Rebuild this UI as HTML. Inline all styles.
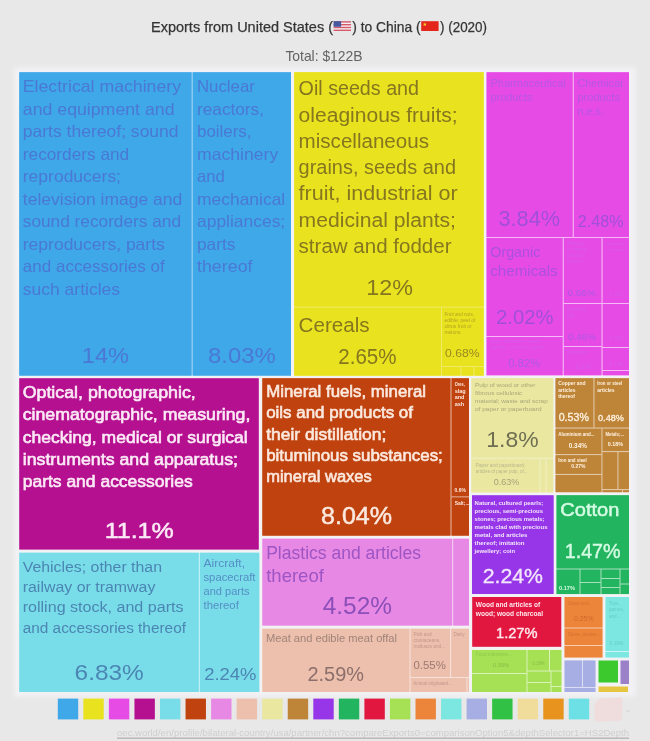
<!DOCTYPE html>
<html lang="en">
<head>
<meta charset="utf-8">
<title>Exports from United States to China (2020)</title>
<style>
html,body{margin:0;padding:0;background:#e8e8e8;}
body{width:650px;height:741px;overflow:hidden;position:relative;font-family:"Liberation Sans",sans-serif;}
svg{position:absolute;left:0;top:0;display:block;font-family:"Liberation Sans",sans-serif;filter:blur(0.5px);}
text{white-space:pre;}
</style>
</head>
<body>
<svg id="chart" role="img" aria-label="Treemap of exports from United States to China, 2020" width="650" height="741" viewBox="0 0 650 741">
<defs><filter id="soft" x="-5%" y="-5%" width="110%" height="110%"><feGaussianBlur stdDeviation="2.5"/></filter></defs>
<g id="header">
<text x="151" y="31.6" font-size="14.1" fill="#353535" textLength="182" lengthAdjust="spacingAndGlyphs" stroke="#353535" stroke-width="0.25">Exports from United States (</text>
<text x="352.2" y="31.6" font-size="14.1" fill="#353535" textLength="68.4" lengthAdjust="spacingAndGlyphs" stroke="#353535" stroke-width="0.25">) to China (</text>
<text x="440" y="31.6" font-size="14.1" fill="#353535" textLength="47" lengthAdjust="spacingAndGlyphs" stroke="#353535" stroke-width="0.25">) (2020)</text>
<text x="285.4" y="60.7" font-size="14.1" fill="#636363" textLength="77.1" lengthAdjust="spacingAndGlyphs">Total: $122B</text>
<rect x="333.6" y="21.2" width="17.4" height="9.8" fill="#f3f3f3"/>
<rect x="333.6" y="21.2" width="17.4" height="1.4" fill="#d8586a"/>
<rect x="333.6" y="24" width="17.4" height="1.4" fill="#d8586a"/>
<rect x="333.6" y="26.8" width="17.4" height="1.4" fill="#d8586a"/>
<rect x="333.6" y="29.6" width="17.4" height="1.4" fill="#d8586a"/>
<rect x="333.6" y="21.2" width="7.5" height="5.6" fill="#48589e"/>
<rect x="421.2" y="21.2" width="17.4" height="9.8" fill="#e3251c"/>
<polygon fill="#f5d327" points="424.80,22.40 425.30,23.81 426.80,23.85 425.61,24.76 426.03,26.20 424.80,25.35 423.57,26.20 423.99,24.76 422.80,23.85 424.30,23.81"/>
</g>
<g id="treemap">
<rect x="14" y="67" width="622" height="630" fill="#f6f4f8" opacity="0.75" filter="url(#soft)"/>
<rect x="19.2" y="72.2" width="271.8" height="303.5" fill="#a8d7f5"/>
<rect x="19.2" y="72.2" width="172.4" height="303.5" fill="#3fa8e9"/>
<rect x="192.7" y="72.2" width="98.3" height="303.5" fill="#3fa8e9"/>
<rect x="294.2" y="72.2" width="189.5" height="303.5" fill="#f0eb66"/>
<rect x="294.2" y="72.2" width="189.5" height="234.4" fill="#e9e31f"/>
<rect x="294.2" y="307.6" width="146.8" height="68.1" fill="#e9e31f"/>
<rect x="442" y="307.6" width="41.7" height="58.4" fill="#e9e31f"/>
<rect x="442" y="367" width="18.5" height="8.7" fill="#e9e31f"/>
<rect x="461.5" y="367" width="12" height="8.7" fill="#e9e31f"/>
<rect x="474.5" y="367" width="9.2" height="8.7" fill="#e9e31f"/>
<rect x="486.5" y="72.2" width="142.5" height="303.1" fill="#f5baf5"/>
<rect x="486.5" y="72.2" width="86.2" height="164.8" fill="#e74be6"/>
<rect x="573.8" y="72.2" width="55.2" height="164.8" fill="#e74be6"/>
<rect x="486.5" y="238" width="76.2" height="98" fill="#e74be6"/>
<rect x="486.5" y="337" width="76.2" height="38.3" fill="#e74be6"/>
<rect x="563.8" y="238" width="37.7" height="65" fill="#e74be6"/>
<rect x="563.8" y="304" width="37.7" height="42" fill="#e74be6"/>
<rect x="563.8" y="347" width="37.7" height="28.3" fill="#e74be6"/>
<rect x="602.6" y="238" width="26.4" height="65" fill="#e74be6"/>
<rect x="602.6" y="304" width="26.4" height="43" fill="#e74be6"/>
<rect x="602.6" y="348" width="26.4" height="22" fill="#e74be6"/>
<rect x="602.6" y="371" width="26.4" height="4.3" fill="#e74be6"/>
<rect x="19.2" y="378.2" width="239.6" height="171.4" fill="#b5108f"/>
<rect x="19.2" y="552.7" width="240.1" height="139.3" fill="#c9f1f6"/>
<rect x="19.2" y="552.7" width="179.6" height="139.3" fill="#79dde9"/>
<rect x="199.9" y="552.7" width="59.4" height="139.3" fill="#79dde9"/>
<rect x="262.3" y="378.2" width="206.7" height="157.5" fill="#e2a992"/>
<rect x="262.3" y="378.2" width="188.1" height="157.5" fill="#c0420e"/>
<rect x="451.6" y="378.2" width="17.4" height="118.1" fill="#c0420e"/>
<rect x="451.6" y="497.4" width="17.4" height="38.3" fill="#c0420e"/>
<rect x="262.3" y="538.7" width="206.7" height="86.9" fill="#f5cff4"/>
<rect x="262.3" y="538.7" width="189.8" height="86.9" fill="#e888e5"/>
<rect x="453.2" y="538.7" width="15.8" height="86.9" fill="#e888e5"/>
<rect x="262.3" y="628.7" width="206.7" height="63.3" fill="#f6e2da"/>
<rect x="262.3" y="628.7" width="147.2" height="63.3" fill="#edbfad"/>
<rect x="410.6" y="628.7" width="39.4" height="48.3" fill="#edbfad"/>
<rect x="451.1" y="628.7" width="17.9" height="48.3" fill="#edbfad"/>
<rect x="410.6" y="678" width="55.9" height="14" fill="#edbfad"/>
<rect x="467.5" y="678" width="1.5" height="14" fill="#edbfad"/>
<rect x="471.3" y="378.2" width="82" height="114.2" fill="#f1f0c6"/>
<rect x="471.3" y="378.2" width="82" height="79.5" fill="#e9e7a0"/>
<rect x="471.3" y="458.8" width="68" height="33.6" fill="#e9e7a0"/>
<rect x="540.4" y="458.8" width="5.2" height="33.6" fill="#e9e7a0"/>
<rect x="546.7" y="458.8" width="6.6" height="33.6" fill="#e9e7a0"/>
<rect x="555.5" y="378.2" width="73.5" height="114" fill="#e1c7a5"/>
<rect x="555.5" y="378.2" width="37.9" height="49.3" fill="#be8438"/>
<rect x="594.5" y="378.2" width="34.5" height="49.3" fill="#be8438"/>
<rect x="555.5" y="428.6" width="45.9" height="25.4" fill="#be8438"/>
<rect x="555.5" y="455.1" width="45.9" height="18.8" fill="#be8438"/>
<rect x="555.5" y="475" width="45.9" height="17.2" fill="#be8438"/>
<rect x="602.5" y="428.6" width="26.5" height="22.4" fill="#be8438"/>
<rect x="602.5" y="452.1" width="14.9" height="36.9" fill="#be8438"/>
<rect x="618.5" y="452.1" width="10.5" height="36.9" fill="#be8438"/>
<rect x="602.5" y="490.1" width="19.5" height="2.1" fill="#be8438"/>
<rect x="623" y="490.1" width="6" height="2.1" fill="#be8438"/>
<rect x="472" y="495.2" width="81.7" height="98.8" fill="#9636e8"/>
<rect x="556.5" y="495.2" width="72.5" height="99" fill="#a6e1be"/>
<rect x="556.5" y="495.2" width="72.5" height="73.3" fill="#22b45e"/>
<rect x="556.5" y="569.5" width="23" height="24.5" fill="#22b45e"/>
<rect x="580.5" y="569.5" width="20" height="12.5" fill="#22b45e"/>
<rect x="580.5" y="583" width="20" height="11" fill="#22b45e"/>
<rect x="601.5" y="569.5" width="18" height="8.5" fill="#22b45e"/>
<rect x="601.5" y="579" width="18" height="8" fill="#22b45e"/>
<rect x="601.5" y="588" width="18" height="6" fill="#22b45e"/>
<rect x="620.5" y="569.5" width="8.5" height="14" fill="#22b45e"/>
<rect x="620.5" y="584.5" width="8.5" height="9.5" fill="#22b45e"/>
<rect x="472.2" y="597" width="89.1" height="49.8" fill="#e2173f"/>
<rect x="472" y="649.8" width="89.3" height="42.2" fill="#dbf3bb"/>
<rect x="472" y="650" width="54.5" height="23" fill="#a6e155"/>
<rect x="472" y="674" width="54.5" height="18" fill="#a6e155"/>
<rect x="527.5" y="650" width="21.5" height="20.5" fill="#a6e155"/>
<rect x="550" y="650" width="11.5" height="20.5" fill="#a6e155"/>
<rect x="527.5" y="671.5" width="23" height="10.5" fill="#a6e155"/>
<rect x="551.5" y="671.5" width="10" height="14.5" fill="#a6e155"/>
<rect x="527.5" y="683" width="23" height="9" fill="#a6e155"/>
<rect x="551.5" y="687" width="10" height="5" fill="#a6e155"/>
<rect x="564.5" y="597" width="38" height="60.5" fill="#f7cdb0"/>
<rect x="564.5" y="597" width="38" height="30.5" fill="#ec843a"/>
<rect x="564.5" y="628.5" width="38" height="16.5" fill="#ec843a"/>
<rect x="564.5" y="646" width="38" height="11.5" fill="#ec843a"/>
<rect x="605.5" y="597" width="23.5" height="60.5" fill="#caf5f2"/>
<rect x="605.5" y="597" width="23.5" height="54" fill="#7ce6e0"/>
<rect x="605.5" y="652" width="23.5" height="5.5" fill="#7ce6e0"/>
<rect x="564.5" y="660.5" width="31" height="31.5" fill="#dbdef3"/>
<rect x="564.5" y="660.5" width="17.5" height="26.5" fill="#a6aee3"/>
<rect x="583" y="660.5" width="12.5" height="26.5" fill="#a6aee3"/>
<rect x="564.5" y="688" width="31" height="4" fill="#a6aee3"/>
<rect x="598.5" y="660.5" width="19.5" height="22" fill="#3bc92e"/>
<rect x="620.5" y="660.5" width="8.5" height="23.5" fill="#9b82c8"/>
<rect x="598.5" y="686.5" width="29.5" height="5.5" fill="#e6c540"/>
<text x="22.8" y="92.3" font-size="16.92" fill="#4a78d4" textLength="158.2" lengthAdjust="spacingAndGlyphs">Electrical machinery</text>
<text x="22.8" y="114.8" font-size="16.92" fill="#4a78d4" textLength="151.7" lengthAdjust="spacingAndGlyphs">and equipment and</text>
<text x="22.8" y="137.3" font-size="16.92" fill="#4a78d4" textLength="155.8" lengthAdjust="spacingAndGlyphs">parts thereof; sound</text>
<text x="22.8" y="159.8" font-size="16.92" fill="#4a78d4" textLength="106.4" lengthAdjust="spacingAndGlyphs">recorders and</text>
<text x="22.8" y="182.3" font-size="16.92" fill="#4a78d4" textLength="98.2" lengthAdjust="spacingAndGlyphs">reproducers;</text>
<text x="22.8" y="204.8" font-size="16.92" fill="#4a78d4" textLength="159.5" lengthAdjust="spacingAndGlyphs">television image and</text>
<text x="22.8" y="227.3" font-size="16.92" fill="#4a78d4" textLength="158.2" lengthAdjust="spacingAndGlyphs">sound recorders and</text>
<text x="22.8" y="249.8" font-size="16.92" fill="#4a78d4" textLength="142" lengthAdjust="spacingAndGlyphs">reproducers, parts</text>
<text x="22.8" y="272.3" font-size="16.92" fill="#4a78d4" textLength="142" lengthAdjust="spacingAndGlyphs">and accessories of</text>
<text x="22.8" y="294.8" font-size="16.92" fill="#4a78d4" textLength="97.2" lengthAdjust="spacingAndGlyphs">such articles</text>
<text x="105.4" y="363.4" font-size="22.56" fill="#4a78d4" textLength="47.2" lengthAdjust="spacingAndGlyphs" text-anchor="middle">14%</text>
<text x="197" y="92.3" font-size="16.92" fill="#4a78d4" textLength="57.8" lengthAdjust="spacingAndGlyphs">Nuclear</text>
<text x="197" y="114.8" font-size="16.92" fill="#4a78d4" textLength="67" lengthAdjust="spacingAndGlyphs">reactors,</text>
<text x="197" y="137.3" font-size="16.92" fill="#4a78d4" textLength="54.5" lengthAdjust="spacingAndGlyphs">boilers,</text>
<text x="197" y="159.8" font-size="16.92" fill="#4a78d4" textLength="81.3" lengthAdjust="spacingAndGlyphs">machinery</text>
<text x="197" y="182.3" font-size="16.92" fill="#4a78d4" textLength="27.8" lengthAdjust="spacingAndGlyphs">and</text>
<text x="197" y="204.8" font-size="16.92" fill="#4a78d4" textLength="88.2" lengthAdjust="spacingAndGlyphs">mechanical</text>
<text x="197" y="227.3" font-size="16.92" fill="#4a78d4" textLength="88.2" lengthAdjust="spacingAndGlyphs">appliances;</text>
<text x="197" y="249.8" font-size="16.92" fill="#4a78d4" textLength="38.4" lengthAdjust="spacingAndGlyphs">parts</text>
<text x="197" y="272.3" font-size="16.92" fill="#4a78d4" textLength="55.5" lengthAdjust="spacingAndGlyphs">thereof</text>
<text x="241.8" y="363.4" font-size="22.56" fill="#4a78d4" textLength="67.6" lengthAdjust="spacingAndGlyphs" text-anchor="middle">8.03%</text>
<text x="298.6" y="95.3" font-size="19.74" fill="#85761f" textLength="120.4" lengthAdjust="spacingAndGlyphs">Oil seeds and</text>
<text x="298.6" y="121.55" font-size="19.74" fill="#85761f" textLength="159.1" lengthAdjust="spacingAndGlyphs">oleaginous fruits;</text>
<text x="298.6" y="147.8" font-size="19.74" fill="#85761f" textLength="130.4" lengthAdjust="spacingAndGlyphs">miscellaneous</text>
<text x="298.6" y="174.05" font-size="19.74" fill="#85761f" textLength="157.4" lengthAdjust="spacingAndGlyphs">grains, seeds and</text>
<text x="298.6" y="200.3" font-size="19.74" fill="#85761f" textLength="159.1" lengthAdjust="spacingAndGlyphs">fruit, industrial or</text>
<text x="298.6" y="226.55" font-size="19.74" fill="#85761f" textLength="157.4" lengthAdjust="spacingAndGlyphs">medicinal plants;</text>
<text x="298.6" y="252.8" font-size="19.74" fill="#85761f" textLength="152.9" lengthAdjust="spacingAndGlyphs">straw and fodder</text>
<text x="389.65" y="294.5" font-size="22.56" fill="#85761f" textLength="46.7" lengthAdjust="spacingAndGlyphs" text-anchor="middle">12%</text>
<text x="298.6" y="332" font-size="19.74" fill="#85761f" textLength="71" lengthAdjust="spacingAndGlyphs">Cereals</text>
<text x="367.4" y="363.7" font-size="22.56" fill="#85761f" textLength="58.2" lengthAdjust="spacingAndGlyphs" text-anchor="middle">2.65%</text>
<text x="444.5" y="315.5" font-size="4.89" fill="#b3a222" textLength="29.5" lengthAdjust="spacingAndGlyphs">Fruit and nuts,</text>
<text x="444.5" y="321.7" font-size="4.89" fill="#b3a222" textLength="30.76" lengthAdjust="spacingAndGlyphs">edible; peel of</text>
<text x="444.5" y="327.9" font-size="4.89" fill="#b3a222" textLength="27.18" lengthAdjust="spacingAndGlyphs">citrus fruit or</text>
<text x="444.5" y="334.1" font-size="4.89" fill="#b3a222" textLength="15.93" lengthAdjust="spacingAndGlyphs">melons</text>
<text x="462.3" y="357.1" font-size="11.75" fill="#9a8a20" textLength="34.6" lengthAdjust="spacingAndGlyphs" text-anchor="middle">0.68%</text>
<text x="490.5" y="87" font-size="10.81" fill="#b656e3" textLength="75.4" lengthAdjust="spacingAndGlyphs">Pharmaceutical</text>
<text x="490.5" y="101" font-size="10.81" fill="#b656e3" textLength="41.9" lengthAdjust="spacingAndGlyphs">products</text>
<text x="529.25" y="225.9" font-size="22.09" fill="#a04fd8" textLength="61.5" lengthAdjust="spacingAndGlyphs" text-anchor="middle">3.84%</text>
<text x="577.4" y="87" font-size="10.81" fill="#b656e3" textLength="45.3" lengthAdjust="spacingAndGlyphs">Chemical</text>
<text x="577.4" y="100.75" font-size="10.81" fill="#b656e3" textLength="42.6" lengthAdjust="spacingAndGlyphs">products</text>
<text x="577.4" y="114.5" font-size="10.81" fill="#b656e3" textLength="26.72" lengthAdjust="spacingAndGlyphs">n.e.s.</text>
<text x="600.7" y="227" font-size="15.98" fill="#a04fd8" textLength="45.8" lengthAdjust="spacingAndGlyphs" text-anchor="middle">2.48%</text>
<text x="490.3" y="257" font-size="14.57" fill="#ab50de" textLength="50" lengthAdjust="spacingAndGlyphs">Organic</text>
<text x="490.3" y="275.5" font-size="14.57" fill="#ab50de" textLength="67.3" lengthAdjust="spacingAndGlyphs">chemicals</text>
<text x="524.7" y="324.3" font-size="20.68" fill="#a04fd8" textLength="57.4" lengthAdjust="spacingAndGlyphs" text-anchor="middle">2.02%</text>
<text x="490.3" y="343" font-size="4.7" fill="#d65ce9" textLength="51.49" lengthAdjust="spacingAndGlyphs">Soap; lubricants, waxes,</text>
<text x="490.3" y="349" font-size="4.7" fill="#d65ce9" textLength="54.66" lengthAdjust="spacingAndGlyphs">candles, modelling pastes</text>
<text x="524.3" y="367.4" font-size="10.81" fill="#ad58e2" textLength="32" lengthAdjust="spacingAndGlyphs" text-anchor="middle">0.82%</text>
<text x="567" y="245" font-size="4.7" fill="#d65ce9" textLength="16.64" lengthAdjust="spacingAndGlyphs">Tanning</text>
<text x="567" y="251" font-size="4.7" fill="#d65ce9" textLength="19.54" lengthAdjust="spacingAndGlyphs">or dyeing</text>
<text x="567" y="257" font-size="4.7" fill="#d65ce9" textLength="17.95" lengthAdjust="spacingAndGlyphs">extracts;</text>
<text x="567" y="263" font-size="4.7" fill="#d65ce9" textLength="15.32" lengthAdjust="spacingAndGlyphs">tannins</text>
<text x="581.6" y="296" font-size="9.4" fill="#ad58e2" textLength="28.4" lengthAdjust="spacingAndGlyphs" text-anchor="middle">0.66%</text>
<text x="567" y="311" font-size="4.7" fill="#d65ce9" textLength="19.27" lengthAdjust="spacingAndGlyphs">Essential</text>
<text x="567" y="317" font-size="4.7" fill="#d65ce9" textLength="7.13" lengthAdjust="spacingAndGlyphs">oils</text>
<text x="582" y="339.9" font-size="9.4" fill="#ad58e2" textLength="28" lengthAdjust="spacingAndGlyphs" text-anchor="middle">0.46%</text>
<text x="567" y="354" font-size="4.7" fill="#d65ce9" textLength="20.58" lengthAdjust="spacingAndGlyphs">Fertilizers</text>
<text x="583" y="368.5" font-size="6.58" fill="#d65ce9" textLength="15.16" lengthAdjust="spacingAndGlyphs" text-anchor="middle">0.3%</text>
<text x="606" y="245" font-size="4.23" fill="#d65ce9" textLength="17.59" lengthAdjust="spacingAndGlyphs">Inorganic</text>
<text x="606" y="251" font-size="4.23" fill="#d65ce9" textLength="19.01" lengthAdjust="spacingAndGlyphs">chemicals</text>
<text x="616" y="296" font-size="5.64" fill="#d65ce9" textLength="12.99" lengthAdjust="spacingAndGlyphs" text-anchor="middle">0.3%</text>
<text x="616" y="340" font-size="5.64" fill="#d65ce9" textLength="12.99" lengthAdjust="spacingAndGlyphs" text-anchor="middle">0.2%</text>
<text x="616" y="366" font-size="5.64" fill="#d65ce9" textLength="12.99" lengthAdjust="spacingAndGlyphs" text-anchor="middle">0.1%</text>
<text x="22.7" y="398" font-size="16.92" fill="#fbeaf6" textLength="173.1" lengthAdjust="spacingAndGlyphs" stroke="#fbeaf6" stroke-width="0.61">Optical, photographic,</text>
<text x="22.7" y="420.35" font-size="16.92" fill="#fbeaf6" textLength="227.7" lengthAdjust="spacingAndGlyphs" stroke="#fbeaf6" stroke-width="0.61">cinematographic, measuring,</text>
<text x="22.7" y="442.7" font-size="16.92" fill="#fbeaf6" textLength="225" lengthAdjust="spacingAndGlyphs" stroke="#fbeaf6" stroke-width="0.61">checking, medical or surgical</text>
<text x="22.7" y="465.05" font-size="16.92" fill="#fbeaf6" textLength="215.3" lengthAdjust="spacingAndGlyphs" stroke="#fbeaf6" stroke-width="0.61">instruments and apparatus;</text>
<text x="22.7" y="487.4" font-size="16.92" fill="#fbeaf6" textLength="170" lengthAdjust="spacingAndGlyphs" stroke="#fbeaf6" stroke-width="0.61">parts and accessories</text>
<text x="139.25" y="538" font-size="22.56" fill="#fbeaf6" textLength="69.1" lengthAdjust="spacingAndGlyphs" text-anchor="middle" stroke="#fbeaf6" stroke-width="0.5">11.1%</text>
<text x="22.7" y="572" font-size="15.51" fill="#4b86b3" textLength="139.3" lengthAdjust="spacingAndGlyphs">Vehicles; other than</text>
<text x="22.7" y="592.2" font-size="15.51" fill="#4b86b3" textLength="132.7" lengthAdjust="spacingAndGlyphs">railway or tramway</text>
<text x="22.7" y="612.4" font-size="15.51" fill="#4b86b3" textLength="160.8" lengthAdjust="spacingAndGlyphs">rolling stock, and parts</text>
<text x="22.7" y="632.6" font-size="15.51" fill="#4b86b3" textLength="163.3" lengthAdjust="spacingAndGlyphs">and accessories thereof</text>
<text x="109.2" y="680.4" font-size="22.56" fill="#4b86b3" textLength="69.2" lengthAdjust="spacingAndGlyphs" text-anchor="middle">6.83%</text>
<text x="203.5" y="567.3" font-size="10.81" fill="#548ec6" textLength="41.5" lengthAdjust="spacingAndGlyphs">Aircraft,</text>
<text x="203.5" y="581.3" font-size="10.81" fill="#548ec6" textLength="51.9" lengthAdjust="spacingAndGlyphs">spacecraft</text>
<text x="203.5" y="595.3" font-size="10.81" fill="#548ec6" textLength="46.1" lengthAdjust="spacingAndGlyphs">and parts</text>
<text x="203.5" y="609.3" font-size="10.81" fill="#548ec6" textLength="35.3" lengthAdjust="spacingAndGlyphs">thereof</text>
<text x="230.35" y="680.4" font-size="17.39" fill="#4b86b3" textLength="52.3" lengthAdjust="spacingAndGlyphs" text-anchor="middle">2.24%</text>
<text x="266.2" y="397" font-size="16.45" fill="#fbe9df" textLength="159.8" lengthAdjust="spacingAndGlyphs" stroke="#fbe9df" stroke-width="0.6">Mineral fuels, mineral</text>
<text x="266.2" y="418.25" font-size="16.45" fill="#fbe9df" textLength="146.8" lengthAdjust="spacingAndGlyphs" stroke="#fbe9df" stroke-width="0.6">oils and products of</text>
<text x="266.2" y="439.5" font-size="16.45" fill="#fbe9df" textLength="120.1" lengthAdjust="spacingAndGlyphs" stroke="#fbe9df" stroke-width="0.6">their distillation;</text>
<text x="266.2" y="460.75" font-size="16.45" fill="#fbe9df" textLength="176.6" lengthAdjust="spacingAndGlyphs" stroke="#fbe9df" stroke-width="0.6">bituminous substances;</text>
<text x="266.2" y="482" font-size="16.45" fill="#fbe9df" textLength="105.6" lengthAdjust="spacingAndGlyphs" stroke="#fbe9df" stroke-width="0.6">mineral waxes</text>
<text x="356.5" y="524" font-size="23.5" fill="#fbe9df" textLength="71" lengthAdjust="spacingAndGlyphs" text-anchor="middle" stroke="#fbe9df" stroke-width="0.5">8.04%</text>
<text x="454.7" y="386" font-size="5.45" fill="#fbe9df" textLength="10.1" lengthAdjust="spacingAndGlyphs" font-weight="700">Ores,</text>
<text x="454.7" y="392.5" font-size="5.45" fill="#fbe9df" textLength="11.03" lengthAdjust="spacingAndGlyphs" font-weight="700">slag</text>
<text x="454.7" y="399" font-size="5.45" fill="#fbe9df" textLength="9.8" lengthAdjust="spacingAndGlyphs" font-weight="700">and</text>
<text x="454.7" y="405.5" font-size="5.45" fill="#fbe9df" textLength="9.49" lengthAdjust="spacingAndGlyphs" font-weight="700">ash</text>
<text x="460.25" y="491.5" font-size="4.89" fill="#fbe9df" textLength="11.26" lengthAdjust="spacingAndGlyphs" font-weight="700" text-anchor="middle">0.6%</text>
<text x="454.7" y="505" font-size="4.89" fill="#fbe9df" textLength="14.82" lengthAdjust="spacingAndGlyphs" font-weight="700">Salt;...</text>
<text x="266.2" y="558.5" font-size="18.33" fill="#9d55c4" textLength="154.8" lengthAdjust="spacingAndGlyphs">Plastics and articles</text>
<text x="266.2" y="581.8" font-size="18.33" fill="#9d55c4" textLength="57.67" lengthAdjust="spacingAndGlyphs">thereof</text>
<text x="357.35" y="613.6" font-size="23.5" fill="#8b4fb8" textLength="69.3" lengthAdjust="spacingAndGlyphs" text-anchor="middle">4.52%</text>
<text x="266" y="641.7" font-size="11.28" fill="#a08479" textLength="131" lengthAdjust="spacingAndGlyphs">Meat and edible meat offal</text>
<text x="335.75" y="681.3" font-size="20.68" fill="#8c6f6a" textLength="56.5" lengthAdjust="spacingAndGlyphs" text-anchor="middle">2.59%</text>
<text x="413.5" y="636" font-size="4.7" fill="#c3978a" textLength="18.22" lengthAdjust="spacingAndGlyphs">Fish and</text>
<text x="413.5" y="642.1" font-size="4.7" fill="#c3978a" textLength="26.93" lengthAdjust="spacingAndGlyphs">crustaceans,</text>
<text x="413.5" y="648.2" font-size="4.7" fill="#c3978a" textLength="31.68" lengthAdjust="spacingAndGlyphs">molluscs and...</text>
<text x="429.65" y="669.3" font-size="11.28" fill="#9c7a72" textLength="32.3" lengthAdjust="spacingAndGlyphs" text-anchor="middle">0.55%</text>
<text x="453.5" y="636" font-size="4.7" fill="#c3978a" textLength="11.08" lengthAdjust="spacingAndGlyphs">Dairy</text>
<text x="413.3" y="685.2" font-size="4.7" fill="#c3978a" textLength="38.4" lengthAdjust="spacingAndGlyphs">Animal originated...</text>
<text x="475" y="387.2" font-size="6.11" fill="#aaa878" textLength="60.4" lengthAdjust="spacingAndGlyphs">Pulp of wood or other</text>
<text x="475" y="395.2" font-size="6.11" fill="#aaa878" textLength="47.3" lengthAdjust="spacingAndGlyphs">fibrous cellulosic</text>
<text x="475" y="403.2" font-size="6.11" fill="#aaa878" textLength="72.7" lengthAdjust="spacingAndGlyphs">material; waste and scrap</text>
<text x="475" y="411.2" font-size="6.11" fill="#aaa878" textLength="66.5" lengthAdjust="spacingAndGlyphs">of paper or paperboard</text>
<text x="512.45" y="446.5" font-size="22.56" fill="#6f6e52" textLength="52.3" lengthAdjust="spacingAndGlyphs" text-anchor="middle">1.8%</text>
<text x="475.7" y="467" font-size="4.7" fill="#b9b78a" textLength="49.3" lengthAdjust="spacingAndGlyphs">Paper and paperboard;</text>
<text x="475.7" y="473.1" font-size="4.7" fill="#b9b78a" textLength="51.7" lengthAdjust="spacingAndGlyphs">articles of paper pulp, of...</text>
<text x="506.5" y="484.8" font-size="9.4" fill="#a5a37a" textLength="25.6" lengthAdjust="spacingAndGlyphs" text-anchor="middle">0.63%</text>
<text x="558.2" y="385.4" font-size="4.89" fill="#fff3e2" textLength="27.45" lengthAdjust="spacingAndGlyphs" font-weight="700">Copper and</text>
<text x="558.2" y="391.8" font-size="4.89" fill="#fff3e2" textLength="17.3" lengthAdjust="spacingAndGlyphs" font-weight="700">articles</text>
<text x="558.2" y="398.2" font-size="4.89" fill="#fff3e2" textLength="16.74" lengthAdjust="spacingAndGlyphs" font-weight="700">thereof</text>
<text x="573.8" y="420.5" font-size="10.81" fill="#fff3e2" textLength="30.2" lengthAdjust="spacingAndGlyphs" text-anchor="middle" stroke="#fff3e2" stroke-width="0.3">0.53%</text>
<text x="597.3" y="385.4" font-size="4.89" fill="#fff3e2" textLength="24.7" lengthAdjust="spacingAndGlyphs" font-weight="700">Iron or steel</text>
<text x="597.3" y="391.8" font-size="4.89" fill="#fff3e2" textLength="17.3" lengthAdjust="spacingAndGlyphs" font-weight="700">articles</text>
<text x="611" y="420.5" font-size="9.87" fill="#fff3e2" textLength="26" lengthAdjust="spacingAndGlyphs" text-anchor="middle" stroke="#fff3e2" stroke-width="0.3">0.48%</text>
<text x="558.2" y="435.8" font-size="4.7" fill="#fff3e2" textLength="36.4" lengthAdjust="spacingAndGlyphs" font-weight="700">Aluminium and...</text>
<text x="577.85" y="447.5" font-size="6.58" fill="#fff3e2" textLength="18.3" lengthAdjust="spacingAndGlyphs" font-weight="700" text-anchor="middle">0.34%</text>
<text x="605.5" y="435.8" font-size="4.7" fill="#fff3e2" textLength="18.5" lengthAdjust="spacingAndGlyphs" font-weight="700">Metals;...</text>
<text x="615.4" y="445.8" font-size="5.64" fill="#fff3e2" textLength="15.2" lengthAdjust="spacingAndGlyphs" font-weight="700" text-anchor="middle">0.18%</text>
<text x="558.2" y="462" font-size="4.7" fill="#fff3e2" textLength="28.6" lengthAdjust="spacingAndGlyphs" font-weight="700">Iron and steel</text>
<text x="578.35" y="468.2" font-size="5.17" fill="#fff3e2" textLength="14.1" lengthAdjust="spacingAndGlyphs" font-weight="700" text-anchor="middle">0.27%</text>
<text x="474.6" y="504.9" font-size="6.2" fill="#f3e6fd" textLength="68.6" lengthAdjust="spacingAndGlyphs" font-weight="700">Natural, cultured pearls;</text>
<text x="474.6" y="512.95" font-size="6.2" fill="#f3e6fd" textLength="68.4" lengthAdjust="spacingAndGlyphs" font-weight="700">precious, semi-precious</text>
<text x="474.6" y="521" font-size="6.2" fill="#f3e6fd" textLength="70" lengthAdjust="spacingAndGlyphs" font-weight="700">stones; precious metals;</text>
<text x="474.6" y="529.05" font-size="6.2" fill="#f3e6fd" textLength="72.9" lengthAdjust="spacingAndGlyphs" font-weight="700">metals clad with precious</text>
<text x="474.6" y="537.1" font-size="6.2" fill="#f3e6fd" textLength="52.8" lengthAdjust="spacingAndGlyphs" font-weight="700">metal, and articles</text>
<text x="474.6" y="545.15" font-size="6.2" fill="#f3e6fd" textLength="50" lengthAdjust="spacingAndGlyphs" font-weight="700">thereof; imitation</text>
<text x="474.6" y="553.2" font-size="6.2" fill="#f3e6fd" textLength="40.4" lengthAdjust="spacingAndGlyphs" font-weight="700">jewellery; coin</text>
<text x="512.85" y="583.3" font-size="20.68" fill="#f3e6fd" textLength="60.3" lengthAdjust="spacingAndGlyphs" text-anchor="middle" stroke="#f3e6fd" stroke-width="0.3">2.24%</text>
<text x="560.3" y="515.5" font-size="18.8" fill="#d5fbe4" textLength="59" lengthAdjust="spacingAndGlyphs" stroke="#d5fbe4" stroke-width="0.5">Cotton</text>
<text x="592.65" y="557.6" font-size="19.74" fill="#d5fbe4" textLength="55.9" lengthAdjust="spacingAndGlyphs" text-anchor="middle" stroke="#d5fbe4" stroke-width="0.4">1.47%</text>
<text x="567" y="589.7" font-size="5.17" fill="#d5fbe4" textLength="16" lengthAdjust="spacingAndGlyphs" font-weight="700" text-anchor="middle">0.17%</text>
<text x="475.8" y="606.6" font-size="7.05" fill="#fde8ec" textLength="64.5" lengthAdjust="spacingAndGlyphs" font-weight="700">Wood and articles of</text>
<text x="475.8" y="615.6" font-size="7.05" fill="#fde8ec" textLength="67.2" lengthAdjust="spacingAndGlyphs" font-weight="700">wood; wood charcoal</text>
<text x="516.75" y="637.6" font-size="14.1" fill="#fde8ec" textLength="41.5" lengthAdjust="spacingAndGlyphs" text-anchor="middle" stroke="#fde8ec" stroke-width="0.4">1.27%</text>
<text x="475.8" y="656.4" font-size="4.7" fill="#8fc84a" textLength="36.44" lengthAdjust="spacingAndGlyphs">Food industries...</text>
<text x="501" y="667.3" font-size="6.11" fill="#86bd45" textLength="16.6" lengthAdjust="spacingAndGlyphs" text-anchor="middle">0.39%</text>
<text x="538.55" y="665.3" font-size="4.7" fill="#86bd45" textLength="11.9" lengthAdjust="spacingAndGlyphs" text-anchor="middle">0.19%</text>
<text x="567.5" y="604.8" font-size="4.7" fill="#d8702f" textLength="25.35" lengthAdjust="spacingAndGlyphs">Glass and...</text>
<text x="583.75" y="621" font-size="7.52" fill="#d06a2c" textLength="19.5" lengthAdjust="spacingAndGlyphs" text-anchor="middle">0.25%</text>
<text x="567.5" y="636" font-size="4.7" fill="#d8702f" textLength="33.01" lengthAdjust="spacingAndGlyphs">Stone, plaster...</text>
<text x="609" y="605" font-size="4.51" fill="#62cfc9" textLength="10.64" lengthAdjust="spacingAndGlyphs">Toys,</text>
<text x="609" y="611.3" font-size="4.51" fill="#62cfc9" textLength="14.95" lengthAdjust="spacingAndGlyphs">games,</text>
<text x="609" y="617.6" font-size="4.51" fill="#62cfc9" textLength="11.41" lengthAdjust="spacingAndGlyphs">and...</text>
<text x="616.5" y="644.5" font-size="5.17" fill="#62cfc9" textLength="13.8" lengthAdjust="spacingAndGlyphs" text-anchor="middle">0.19%</text>
</g>
<g id="legend">
<rect x="57.8" y="698.6" width="20.4" height="20.8" fill="#3fa8e9"/>
<rect x="83.35" y="698.6" width="20.4" height="20.8" fill="#e9e31f"/>
<rect x="108.9" y="698.6" width="20.4" height="20.8" fill="#e74be6"/>
<rect x="134.45" y="698.6" width="20.4" height="20.8" fill="#b5108f"/>
<rect x="160" y="698.6" width="20.4" height="20.8" fill="#79dde9"/>
<rect x="185.55" y="698.6" width="20.4" height="20.8" fill="#c0420e"/>
<rect x="211.1" y="698.6" width="20.4" height="20.8" fill="#e888e5"/>
<rect x="236.65" y="698.6" width="20.4" height="20.8" fill="#edbfad"/>
<rect x="262.2" y="698.6" width="20.4" height="20.8" fill="#e9e7a0"/>
<rect x="287.75" y="698.6" width="20.4" height="20.8" fill="#be8438"/>
<rect x="313.3" y="698.6" width="20.4" height="20.8" fill="#9636e8"/>
<rect x="338.85" y="698.6" width="20.4" height="20.8" fill="#22b45e"/>
<rect x="364.4" y="698.6" width="20.4" height="20.8" fill="#e2173f"/>
<rect x="389.95" y="698.6" width="20.4" height="20.8" fill="#a6e155"/>
<rect x="415.5" y="698.6" width="20.4" height="20.8" fill="#ec843a"/>
<rect x="441.05" y="698.6" width="20.4" height="20.8" fill="#7ce6e0"/>
<rect x="466.6" y="698.6" width="20.4" height="20.8" fill="#a6aee3"/>
<rect x="492.15" y="698.6" width="20.4" height="20.8" fill="#31c144"/>
<rect x="517.7" y="698.6" width="20.4" height="20.8" fill="#f0dd9b"/>
<rect x="543.25" y="698.6" width="20.4" height="20.8" fill="#e8931d"/>
<rect x="568.8" y="698.6" width="20.4" height="20.8" fill="#6ce0e5"/>
<path d="M600 698.5 L621 697.5 Q622.5 697.5 622.5 699 L622 718 Q622 720.5 619.5 720.8 L597 721.5 Q594.5 721.5 594.5 719 L594.5 704 Z" fill="#efdbdc" opacity="0.92"/>
<rect x="626.5" y="710.5" width="3.5" height="1" fill="#cfcfd4"/>
<text x="117" y="736" font-size="9.4" fill="#cfcfcf" textLength="512" lengthAdjust="spacingAndGlyphs">oec.world/en/profile/bilateral-country/usa/partner/chn?compareExports0=comparisonOption5&amp;depthSelector1=HS2Depth</text>
<rect x="117" y="737.6" width="512" height="1.1" fill="#a9a9a9"/>
</g>
</svg>
</body>
</html>
